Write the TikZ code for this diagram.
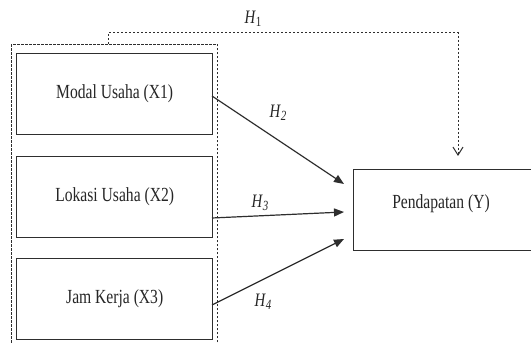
\documentclass[tikz,border=0pt]{standalone}
\usepackage{fontspec}
\setmainfont{Liberation Serif}[FakeStretch=0.78]
\usetikzlibrary{arrows.meta}
\definecolor{ink}{HTML}{2E2E2E}
\tikzset{
  varbox/.style={draw=ink, line width=1.4pt, minimum width=196pt, minimum height=81pt, inner sep=0pt, font=\fontsize{20}{22}\selectfont, text=black!85},
  grpbox/.style={draw=ink, line width=1pt, dash pattern=on 2.4pt off 1.6pt},
  hyparrow/.style={draw=ink, line width=1.2pt, -{Triangle[length=10pt,width=8pt]}},
  hyplabel/.style={font=\fontsize{19}{21}\selectfont, text=black!85},
  openarrow/.style={draw=ink, line width=1pt, dash pattern=on 2.4pt off 1.6pt, -{Straight Barb[length=8pt,width=10pt,line width=1pt]}}
}
\newcommand{\hyp}[1]{\textit{H}\raisebox{-0.35ex}{\fontsize{14}{15}\selectfont\textit{#1}}}
\newcommand{\hypone}{\textit{H}\raisebox{-0.35ex}{\fontsize{14}{15}\selectfont 1}}
\begin{document}
\begin{tikzpicture}[x=1pt,y=-1pt]
\useasboundingbox (0,0) rectangle (531,344);
\clip (0,0) rectangle (531,344);
\fill[white] (0,0) rectangle (531,344);
% group dashed box
\node[grpbox, minimum width=206pt, minimum height=320pt, inner sep=0pt, anchor=north west] (grp) at (11,44) {};
% variable boxes
\node[varbox, anchor=north west] (b1) at (16,53) {\raisebox{5pt}{Modal Usaha (X1)}};
\node[varbox, anchor=north west] (b2) at (16,156) {\raisebox{5pt}{Lokasi Usaha (X2)}};
\node[varbox, anchor=north west] (b3) at (16,258) {\raisebox{5pt}{Jam Kerja (X3)}};
% dependent box
\node[draw=ink, line width=1.4pt, minimum width=180pt, minimum height=81pt, inner sep=0pt, anchor=north west] (y) at (353,169) {};
\node[font=\fontsize{20}{22}\selectfont, text=black!85] (ylab) at (441,204) {Pendapatan (Y)};
% connector end points
\coordinate (t1) at (458,156);
\coordinate (k1) at (108,33);
\coordinate (k2) at (458,33);
\coordinate (t2) at (344,184);
\coordinate (t3) at (344,212);
\coordinate (t4) at (344,239);
\coordinate (s1) at (212,96);
\coordinate (s2) at (212,218);
\coordinate (s3) at (212,305);
% H1
\draw[openarrow] (grp.north -| k1) -- (k1) -- (k2) -- (t1);
\node[hyplabel] (h1) at (253,19) {\hypone};
% H2-H4
\draw[hyparrow] (s1) -- (t2);
\draw[hyparrow] (s2) -- (t3);
\draw[hyparrow] (s3) -- (t4);
\node[hyplabel] (h2) at (278,113) {\hyp{2}};
\node[hyplabel] (h3) at (260,203) {\hyp{3}};
\node[hyplabel] (h4) at (263,302) {\hyp{4}};
\end{tikzpicture}
\end{document}
